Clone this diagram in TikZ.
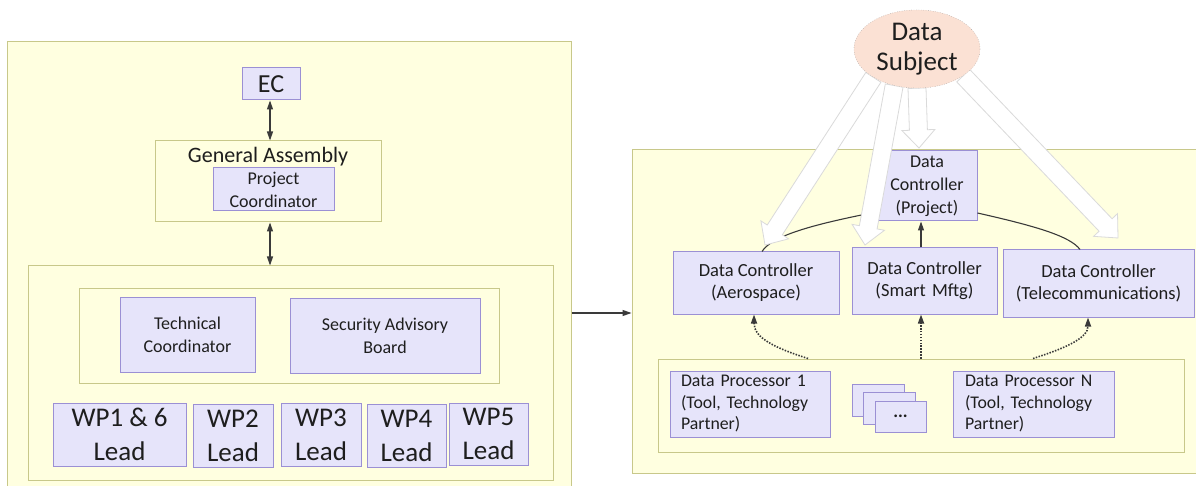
\documentclass[tikz,border=0pt]{standalone}
\usepackage{fontspec}
\setmainfont{Carlito}
\usetikzlibrary{calc,arrows.meta,shapes.geometric}
\definecolor{ybg}{HTML}{FFFFE0}
\definecolor{yborder}{HTML}{C8C88A}
\definecolor{lavfill}{HTML}{E6E4FA}
\definecolor{lavline}{HTML}{9B90D4}
\definecolor{peach}{HTML}{FBE1D4}
\definecolor{arrgray}{HTML}{DADADA}
\definecolor{ink}{HTML}{1E1E1E}
\definecolor{lineg}{HTML}{3A3A3A}
\newcommand\harrow[2]{%
  \coordinate (hA) at (#1); \coordinate (hB) at (#2);
  \coordinate (hH) at ($(hB)!18pt!(hA)$);
  \filldraw[fill=white, draw=arrgray, line width=0.8pt, line join=miter]
    ($(hA)!9pt!90:(hB)$) -- ($(hH)!9pt!-90:(hA)$) -- ($(hH)!16.5pt!-90:(hA)$)
    -- (hB) -- ($(hH)!16.5pt!90:(hA)$) -- ($(hH)!9pt!90:(hA)$)
    -- ($(hA)!9pt!-90:(hB)$) -- cycle;}
\tikzset{
  ybox/.style={draw=yborder, fill=ybg, line width=1pt, inner sep=0pt},
  lbox/.style={draw=lavline, fill=lavfill, line width=1pt, inner sep=0pt, align=center, text=ink},
  fnorm/.style={font=\fontsize{18}{23}\selectfont},
  fdc/.style={font=\fontsize{18.5}{22}\selectfont},
  fdp/.style={font=\fontsize{17.8}{21.5}\selectfont},
  fwp/.style={font=\fontsize{27}{34}\selectfont},
  link/.style={draw=lineg, line width=1.1pt},
  tip/.style={-{Triangle[length=9pt,width=6pt]}},
  tips/.style={{Triangle[length=9pt,width=6pt]}-{Triangle[length=9pt,width=6pt]}},
  dots/.style={draw=lineg, line width=1.6pt, dash pattern=on 1.5pt off 1.4pt},
}
\begin{document}
\begin{tikzpicture}[x=1pt, y=-1pt]
\clip (0,0) rectangle (1196,486);
\fill[white] (0,0) rectangle (1196,486);
% ---------- left part ----------
\node[ybox, minimum width=564, minimum height=450] (leftouter) at (289,267) {};
\node[lbox, minimum width=58, minimum height=32, font=\fontsize{26}{28}\selectfont] (ec) at (271,84) {EC};
\node[ybox, minimum width=226, minimum height=81] (ga) at (268,181.5) {};
\node[anchor=base, text=ink, font=\fontsize{22}{25}\selectfont] (gat) at (268,163) {General Assembly};
\node[lbox, fnorm, minimum width=121, minimum height=43] (pc) at (273.5,189.5) {Project\\Coordinator};
\node[ybox, minimum width=525, minimum height=214] (cont) at (290.5,373) {};
\node[ybox, minimum width=420, minimum height=95] (board) at (289,335.5) {};
\node[lbox, fnorm, minimum width=135, minimum height=75] (tc) at (187.5,334.5) {Technical\\Coordinator};
\node[lbox, fnorm, minimum width=190, minimum height=75] (sab) at (385,335.5) {Security Advisory\\Board};
\node[lbox, fwp, minimum width=133, minimum height=63] (wp1) at (119.5,434.5) {WP1 \& 6\\Lead};
\node[lbox, fwp, minimum width=80, minimum height=63] (wp2) at (233,435.5) {WP2\\Lead};
\node[lbox, fwp, minimum width=80, minimum height=63] (wp3) at (321,435) {WP3\\Lead};
\node[lbox, fwp, minimum width=79, minimum height=63] (wp4) at (406.5,435.5) {WP4\\Lead};
\node[lbox, fwp, minimum width=79, minimum height=62] (wp5) at (488.5,434) {WP5\\Lead};
\draw[link, tips] (ec.south -| 270,0) -- (ga.north -| 270,0);
\draw[link, tips] (ga.south -| 270,0) -- (cont.north -| 270,0);
% ---------- right part ----------
\node[ybox, minimum width=580, minimum height=323] (rightouter) at (922,311.5) {};
\coordinate (lr) at (600,313);
\draw[link, tip] (leftouter.east |- lr) -- (rightouter.west |- lr);
\node[lbox, fnorm, minimum width=100, minimum height=70] (dcp) at (927,186) {Data\\Controller\\(Project)};
\node[lbox, fdc, minimum width=166, minimum height=62] (dca) at (756,283) {Data Controller\\(Aerospace)};
\node[lbox, fdc, minimum width=145, minimum height=66] (dcs) at (924.5,281) {Data Controller\\(Smart\,\,Mftg)};
\node[lbox, fdc, minimum width=191, minimum height=67] (dct) at (1098.5,283.5) {Data Controller\\(Telecommunications)};
\node[ybox, minimum width=526, minimum height=93] (proc) at (921,405.5) {};
\node[lbox, fdp, inner xsep=11pt, text width=138pt, minimum height=66, align=left] (dp1) at (750,404) {Data Processor 1\\(Tool, Technology\\Partner)};
\node[lbox, fdp, inner xsep=12pt, text width=137pt, minimum height=66, align=left] (dpn) at (1033.5,404) {Data Processor N\\(Tool, Technology\\Partner)};
\node[lbox, minimum width=52, minimum height=32] (st1) at (878,400) {};
\node[lbox, minimum width=52, minimum height=32] (st2) at (889.5,408) {};
\node[lbox, font=\bfseries\fontsize{18}{23}\selectfont, minimum width=51, minimum height=31] (st3) at (900.5,416.5) {...};
% links between controllers
\draw[link, tip] (dcs.north -| 921,0) -- (dcp.south -| 921,0);
\draw[link] (dcp.west |- 0,212) .. controls (810,225) and (772,236) .. (dca.north -| 762,0);
\draw[link] (dcp.east |- 0,213) .. controls (1035,226) and (1070,236) .. (dct.north -| 1080,0);
% dotted processor links
\draw[dots, tip] (proc.north -| 808,0) .. controls (775,348) and (754,338) .. (dca.south -| 754,0);
\draw[dots, tip] (proc.north -| 921,0) -- (dcs.south -| 921,0);
\draw[dots, tip] (proc.north -| 1033,0) .. controls (1066,348) and (1088,338) .. (dct.south -| 1088,0);
% data subject and hollow arrows
\node[draw=gray!70, dotted, fill=peach, ellipse, minimum width=126, minimum height=78, inner sep=0pt] (ds) at (917,49) {};
\coordinate (t1) at (765,245);
\coordinate (t2) at (865,245);
\coordinate (t3) at (919,148);
\coordinate (t4) at (1118,238);
\harrow{ds.213}{t1}
\harrow{ds.238}{t2}
\harrow{ds.south}{t3}
\harrow{ds.330}{t4}
\node[draw=gray!70, dotted, fill=peach, ellipse, minimum width=126, minimum height=78, inner sep=0pt, text=ink, align=center, font=\fontsize{27}{30}\selectfont] (dsfront) at (ds.center) {Data\\Subject};
\end{tikzpicture}
\end{document}
